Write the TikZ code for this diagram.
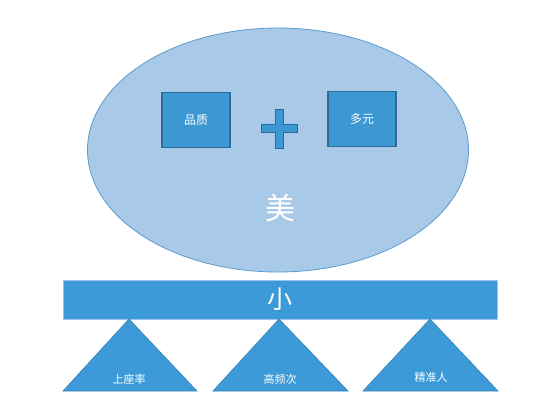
\documentclass[tikz,border=0pt]{standalone}
\usepackage{fontspec}
\usetikzlibrary{shapes.geometric}
\setmainfont{Noto Sans CJK SC}
\newfontfamily\cjk{Noto Sans CJK SC}
\definecolor{ellfill}{HTML}{A9C9E8}
\definecolor{elldraw}{HTML}{5A9BD0}
\definecolor{boxfill}{HTML}{3C97D3}
\definecolor{boxdraw}{HTML}{2A6B97}
\definecolor{barfill}{HTML}{3C9AD8}
\definecolor{bardraw}{HTML}{9CC4E4}
\definecolor{tridraw}{HTML}{3A80B8}
\tikzset{
  sqbox/.style={draw=boxdraw, line width=1.6pt, fill=boxfill, minimum width=68pt, minimum height=55pt, inner sep=0pt, text=white, font=\cjk\fontsize{12}{12}\selectfont},
  tri/.style={draw=tridraw, line width=0.6pt, fill=barfill},
  trilabel/.style={text=white, font=\cjk\fontsize{11}{11}\selectfont, inner sep=0pt}
}
\begin{document}
\begin{tikzpicture}[x=1pt,y=-1pt]
\useasboundingbox (0,0) rectangle (550,418);
\fill[white] (0,0) rectangle (550,418);
% big ellipse
\node[ellipse, draw=elldraw, line width=0.8pt, fill=ellfill, minimum width=381pt, minimum height=244pt, inner sep=0pt] (ell) at (278,150) {};
\node[sqbox] (q) at (196,120) {品质};
\node[sqbox] (d) at (362,119) {多元};
% plus sign
\path[draw=boxdraw, line width=1pt, fill=boxfill]
  (275,109) -- (283,109) -- (283,124) -- (297,124) -- (297,132) -- (283,132) -- (283,148) -- (275,148) -- (275,132) -- (261,132) -- (261,124) -- (275,124) -- cycle;
\node[text=white, font=\cjk\fontsize{30}{30}\selectfont, inner sep=0pt] (mei) at (280,208) {美};
% bar
\node[draw=bardraw, line width=0.8pt, fill=barfill, minimum width=434pt, minimum height=39pt, inner sep=0pt, text=white, font=\cjk\fontsize{25}{25}\selectfont] (bar) at (280,299.5) {小};
% triangles
\coordinate (a1) at (129,319);
\coordinate (a2) at (279,319);
\coordinate (a3) at (430,319);
\path[tri] (a1) -- (197,391) -- (63,391) -- cycle;
\path[tri] (a2) -- (348,391) -- (213,391) -- cycle;
\path[tri] (a3) -- (498,391) -- (363,391) -- cycle;
\node[trilabel] (t1) at (129,379) {上座率};
\node[trilabel] (t2) at (280,379) {高频次};
\node[trilabel] (t3) at (431,377) {精准人};
\end{tikzpicture}
\end{document}
